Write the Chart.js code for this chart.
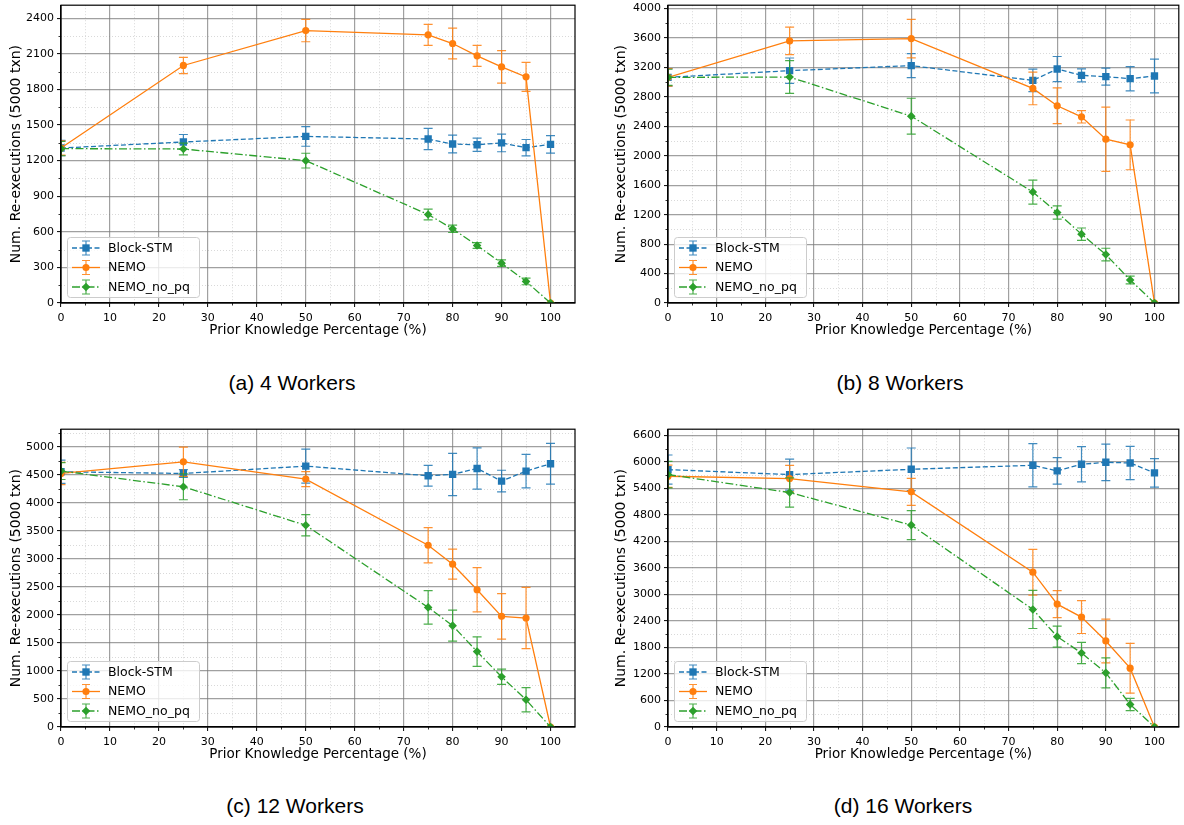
<!DOCTYPE html>
<html>
<head>
<meta charset="utf-8">
<script src="https://cdn.jsdelivr.net/npm/chart.js@4.4.0/dist/chart.umd.min.js"></script>
<style>
  body { margin: 0; background: #fff; }
  #page { position: relative; width: 1184px; height: 825px; overflow: hidden; }
  .panel { position: absolute; width: 592px; height: 345px; }
  .caption {
    position: absolute; transform: translate(-50%, -50%); white-space: nowrap;
    font-family: "Liberation Sans", Arial, sans-serif; font-size: 21px; color: #000;
  }
</style>
</head>
<body>
<div id="page">
  <div class="panel" style="left:0;top:0"><canvas id="c0" width="592" height="345"></canvas></div>
  <div class="panel" style="left:592px;top:0"><canvas id="c1" width="592" height="345"></canvas></div>
  <div class="panel" style="left:0;top:424px"><canvas id="c2" width="592" height="345"></canvas></div>
  <div class="panel" style="left:592px;top:424px"><canvas id="c3" width="592" height="345"></canvas></div>
  <div class="caption" style="left:292px;top:383px">(a) 4 Workers</div>
  <div class="caption" style="left:900px;top:383px">(b) 8 Workers</div>
  <div class="caption" style="left:295px;top:806px">(c) 12 Workers</div>
  <div class="caption" style="left:903px;top:806px">(d) 16 Workers</div>
</div>
<script>
const xs = [0, 25, 50, 75, 80, 85, 90, 95, 100];
const seriesNames = ['Block-STM', 'NEMO', 'NEMO_no_pq'];

// (a) 4 workers
const block4 = [1306, 1357, 1404, 1382, 1340, 1334, 1349, 1309, 1337];
const block4Err = [65, 63, 83, 90, 75, 56, 74, 69, 73];
const nemo4 = [1306, 2002, 2296, 2260, 2187, 2083, 1990, 1906, 0];
const nemo4Err = [60, 68, 94, 88, 129, 88, 137, 122, 0];
const nopq4 = [1301, 1298, 1200, 746, 625, 485, 336, 182, 0];
const nopq4Err = [60, 49, 62, 45, 31, 24, 28, 28, 0];

// (b) 8 workers
const block8 = [3065, 3156, 3224, 3024, 3178, 3092, 3074, 3047, 3083];
const block8Err = [118, 172, 163, 152, 170, 88, 115, 165, 230];
const nemo8 = [3065, 3560, 3591, 2915, 2679, 2529, 2225, 2148, 0];
const nemo8Err = [120, 186, 261, 222, 243, 84, 436, 338, 0];
const nopq8 = [3065, 3069, 2538, 1507, 1230, 935, 658, 313, 0];
const nopq8Err = [110, 222, 243, 163, 90, 84, 86, 53, 0];

// (c) 12 workers
const block12 = [4555, 4525, 4656, 4484, 4508, 4614, 4389, 4567, 4698];
const block12Err = [208, 70, 305, 184, 377, 368, 193, 300, 365];
const nemo12 = [4525, 4733, 4425, 3244, 2906, 2450, 1975, 1945, 0];
const nemo12Err = [200, 261, 134, 314, 267, 395, 406, 546, 0];
const nopq12 = [4567, 4288, 3600, 2135, 1809, 1346, 896, 486, 0];
const nopq12Err = [150, 232, 190, 300, 276, 264, 137, 216, 0];

// (d) 16 workers
const block16 = [5826, 5713, 5833, 5923, 5796, 5946, 5991, 5976, 5751];
const block16Err = [330, 350, 481, 489, 300, 398, 413, 376, 323];
const nemo16 = [5675, 5623, 5322, 3503, 2781, 2488, 1947, 1331, 0];
const nemo16Err = [250, 300, 305, 519, 305, 372, 496, 563, 0];
const nopq16 = [5713, 5307, 4570, 2661, 2045, 1676, 1225, 511, 0];
const nopq16Err = [300, 331, 327, 432, 237, 240, 338, 139, 0];

const yTickSteps = [300, 400, 500, 600];
const yMaxes = [2510, 4045, 5315, 6740];

const styles = [
  { color: '#1f77b4', dash: [5, 2.5], point: 'rect', radius: 5.2 },
  { color: '#ff7f0e', dash: [], point: 'circle', radius: 3.6 },
  { color: '#2ca02c', dash: [8, 2.5, 1.5, 2.5], point: 'rectRot', radius: 4.3 }
];

const panels = [
  { id: 'c0', values: [block4, nemo4, nopq4], errs: [block4Err, nemo4Err, nopq4Err], left: 61, right: 575, titleX: 16 },
  { id: 'c1', values: [block8, nemo8, nopq8], errs: [block8Err, nemo8Err, nopq8Err], left: 76, right: 588, titleX: 29 },
  { id: 'c2', values: [block12, nemo12, nopq12], errs: [block12Err, nemo12Err, nopq12Err], left: 61, right: 575, titleX: 16 },
  { id: 'c3', values: [block16, nemo16, nopq16], errs: [block16Err, nemo16Err, nopq16Err], left: 76, right: 588, titleX: 29 }
];

Chart.defaults.font.family = '"DejaVu Sans", sans-serif';
Chart.defaults.color = '#000';

function marker(ctx, style, x, y, r) {
  ctx.beginPath();
  if (style === 'rect') {
    const s = Math.SQRT1_2 * r;
    ctx.rect(x - s, y - s, 2 * s, 2 * s);
  } else if (style === 'rectRot') {
    ctx.moveTo(x - r, y); ctx.lineTo(x, y - r); ctx.lineTo(x + r, y); ctx.lineTo(x, y + r);
    ctx.closePath();
  } else {
    ctx.arc(x, y, r, 0, Math.PI * 2);
  }
  ctx.fill();
}

function errBar(ctx, x, y1, y2, cap) {
  ctx.beginPath();
  ctx.moveTo(x, y1); ctx.lineTo(x, y2);
  ctx.moveTo(x - cap, y1); ctx.lineTo(x + cap, y1);
  ctx.moveTo(x - cap, y2); ctx.lineTo(x + cap, y2);
  ctx.stroke();
}

// minor grid, error bars, frame, minor ticks and the in-plot legend
const decor = {
  id: 'decor',
  beforeDraw(chart, args, opts) {
    const { ctx, chartArea: a, scales: { x, y } } = chart;
    ctx.save();
    ctx.strokeStyle = '#cfcfcf';
    ctx.lineWidth = 0.8;
    ctx.setLineDash([1, 2]);
    ctx.beginPath();
    for (let v = 5; v < x.max; v += 10) {
      const px = Math.round(x.getPixelForValue(v)) + 0.5;
      ctx.moveTo(px, a.top); ctx.lineTo(px, a.bottom);
    }
    for (let v = opts.step / 2; v < y.max; v += opts.step) {
      const py = Math.round(y.getPixelForValue(v)) + 0.5;
      ctx.moveTo(a.left, py); ctx.lineTo(a.right, py);
    }
    ctx.stroke();
    ctx.restore();
  },
  beforeDatasetDraw(chart, args) {
    const { ctx, chartArea: a, scales: { x, y } } = chart;
    const ds = chart.data.datasets[args.index];
    ctx.save();
    ctx.beginPath();
    ctx.rect(a.left, a.top, a.right - a.left, a.bottom - a.top);
    ctx.clip();
    ctx.strokeStyle = ds.borderColor;
    ctx.globalAlpha = 0.85;
    ctx.lineWidth = 1.2;
    ds.data.forEach((pt, j) => {
      const e = ds.errors[j];
      errBar(ctx, x.getPixelForValue(pt.x), y.getPixelForValue(pt.y - e), y.getPixelForValue(pt.y + e), 4.5);
    });
    ctx.restore();
  },
  afterDraw(chart, args, opts) {
    const { ctx, chartArea: a, scales: { x, y } } = chart;
    ctx.save();
    // minor ticks
    ctx.strokeStyle = '#000';
    ctx.lineWidth = 0.8;
    ctx.beginPath();
    for (let v = 5; v < x.max; v += 10) {
      const px = Math.round(x.getPixelForValue(v)) + 0.5;
      ctx.moveTo(px, a.bottom); ctx.lineTo(px, a.bottom + 2.5);
    }
    for (let v = opts.step / 2; v < y.max; v += opts.step) {
      const py = Math.round(y.getPixelForValue(v)) + 0.5;
      ctx.moveTo(a.left, py); ctx.lineTo(a.left - 2.5, py);
    }
    ctx.stroke();
    // frame
    ctx.lineWidth = 1.2;
    ctx.strokeRect(a.left, a.top, a.right - a.left, a.bottom - a.top);

    // legend
    const bx = a.left + 6, bw = 132, bh = 60, by = a.bottom - 6 - bh;
    ctx.fillStyle = 'rgba(255,255,255,0.8)';
    ctx.strokeStyle = '#cccccc';
    ctx.lineWidth = 1;
    ctx.beginPath();
    ctx.roundRect(bx + 0.5, by + 0.5, bw, bh, 3);
    ctx.fill();
    ctx.stroke();
    ctx.font = '12.5px "DejaVu Sans"';
    ctx.textBaseline = 'middle';
    chart.data.datasets.forEach((ds, i) => {
      const st = styles[i];
      const cy = by + 11 + i * 19.5;
      const hx = bx + 19;
      ctx.strokeStyle = st.color;
      ctx.fillStyle = st.color;
      ctx.lineWidth = 1.3;
      ctx.setLineDash(st.dash);
      ctx.beginPath();
      ctx.moveTo(bx + 5, cy); ctx.lineTo(bx + 33, cy);
      ctx.stroke();
      ctx.setLineDash([]);
      ctx.globalAlpha = 0.85;
      ctx.lineWidth = 1.2;
      errBar(ctx, hx, cy - 7, cy + 7, 4);
      ctx.globalAlpha = 1;
      marker(ctx, st.point, hx, cy, st.radius);
      ctx.fillStyle = '#000';
      ctx.fillText(ds.label, bx + 41, cy + 0.5);
    });
    ctx.restore();
  }
};

panels.forEach((p, k) => {
  const W = 592, H = 345, TOP = 5, BOTTOM = 303;
  const step = yTickSteps[k];
  const datasets = p.values.map((vals, i) => ({
    label: seriesNames[i],
    data: xs.map((xv, j) => ({ x: xv, y: vals[j] })),
    errors: p.errs[i],
    borderColor: styles[i].color,
    backgroundColor: styles[i].color,
    borderWidth: 1.3,
    borderDash: styles[i].dash,
    pointStyle: styles[i].point,
    pointRadius: styles[i].radius,
    pointBorderWidth: 0,
    tension: 0,
    clip: 0,
    order: 3 - i
  }));

  new Chart(document.getElementById(p.id), {
    type: 'line',
    data: { datasets },
    plugins: [decor],
    options: {
      responsive: false,
      animation: false,
      events: [],
      layout: { padding: { left: 0, right: W - p.right, top: TOP, bottom: 0 } },
      plugins: {
        legend: { display: false },
        tooltip: { enabled: false },
        decor: { step }
      },
      scales: {
        x: {
          type: 'linear',
          min: 0,
          max: 105,
          afterBuildTicks(s) {
            s.ticks = [];
            for (let v = 0; v <= 100; v += 10) s.ticks.push({ value: v });
          },
          ticks: { autoSkip: false, maxRotation: 0, padding: 4.5, font: { size: 11 }, callback: v => String(v) },
          grid: { color: 'rgba(120,120,120,0.7)', lineWidth: 1.2, tickColor: '#000', tickLength: 4, tickWidth: 1 },
          border: { color: '#000', width: 1.2 },
          title: { display: true, text: 'Prior Knowledge Percentage (%)', font: { size: 13.5 }, padding: { top: 0, bottom: 6.5 } },
          afterFit(s) { s.height = H - BOTTOM; s.paddingLeft = 0; s.paddingRight = 0; }
        },
        y: {
          type: 'linear',
          min: 0,
          max: yMaxes[k],
          afterBuildTicks(s) {
            s.ticks = [];
            for (let v = 0; v <= yMaxes[k]; v += step) s.ticks.push({ value: v });
          },
          ticks: { autoSkip: false, padding: 3, font: { size: 11 }, callback: v => String(v) },
          grid: { color: 'rgba(120,120,120,0.7)', lineWidth: 1.2, tickColor: '#000', tickLength: 4, tickWidth: 1 },
          border: { color: '#000', width: 1.2 },
          title: { display: true, text: 'Num. Re-executions (5000 txn)', font: { size: 14 }, padding: { top: p.titleX - 8.4, bottom: 0 } },
          afterFit(s) { s.width = p.left; s.paddingTop = 0; s.paddingBottom = 0; }
        }
      }
    }
  });
});
</script>
</body>
</html>
